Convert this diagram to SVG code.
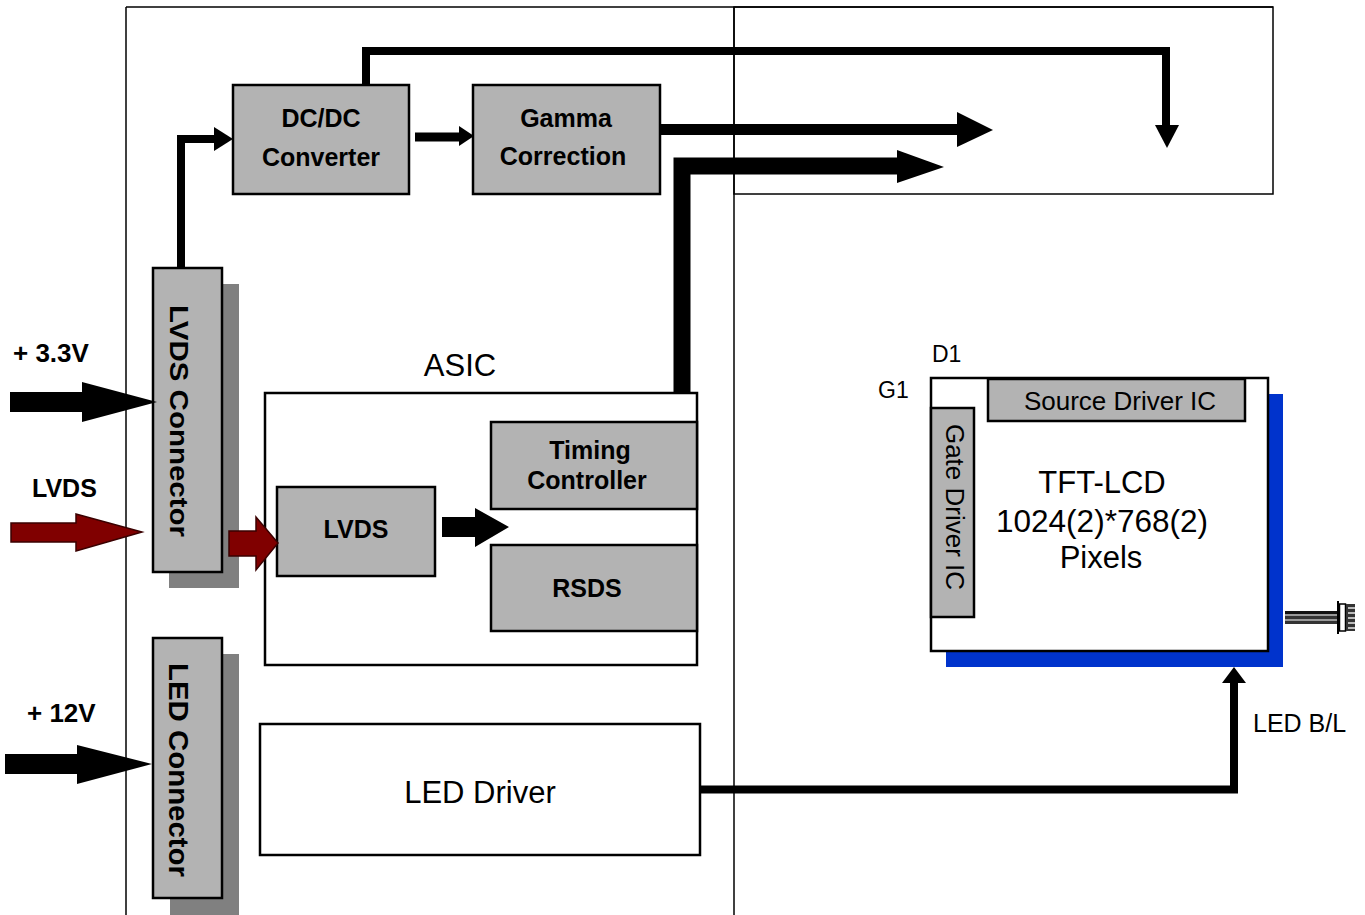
<svg xmlns="http://www.w3.org/2000/svg" width="1365" height="915" viewBox="0 0 1365 915">
<style>
.frame{fill:none;stroke:#000;stroke-width:1.5}
.gbox{fill:#b3b3b3;stroke:#000;stroke-width:2.5}
.wbox{fill:#fff;stroke:#000;stroke-width:2.5}
.shadow{fill:#808080}
.wire{fill:none;stroke:#000;stroke-linejoin:miter;stroke-linecap:butt}
.head{fill:#000}
.red{fill:#800000;stroke:#3a0000;stroke-width:1.5}
.b{font-family:"Liberation Sans",Arial,sans-serif;font-weight:bold;fill:#000}
.n{font-family:"Liberation Sans",Arial,sans-serif;fill:#000}
</style>
<rect width="1365" height="915" fill="#fff"/>
<g id="frame">
<line class="frame" x1="126" y1="7" x2="126" y2="915"/>
<line class="frame" x1="126" y1="7" x2="1273" y2="7"/>
<line class="frame" x1="734" y1="7" x2="734" y2="915"/>
<rect class="frame" x="734" y="7" width="539" height="187"/>
</g>
<g id="tft-panel">
<rect x="946" y="394" width="337" height="273" fill="#0033cc"/>
<rect class="wbox" x="931" y="378" width="337" height="273"/>
<text class="n" x="932" y="362" font-size="23">D1</text>
<text class="n" x="878" y="398" font-size="23">G1</text>
<text class="n" x="1102" y="493" font-size="31" text-anchor="middle">TFT-LCD</text>
<text class="n" x="1102" y="532" font-size="31" text-anchor="middle" textLength="212" lengthAdjust="spacingAndGlyphs">1024(2)*768(2)</text>
<text class="n" x="1101" y="568" font-size="31" text-anchor="middle">Pixels</text>
</g>
<g id="source-driver">
<rect class="gbox" x="988" y="379" width="257" height="42"/>
<text class="n" x="1120" y="410" font-size="26" text-anchor="middle">Source Driver IC</text>
</g>
<g id="gate-driver">
<rect class="gbox" x="931" y="408" width="43" height="209"/>
<text class="n" transform="translate(946,507) rotate(90)" font-size="26" text-anchor="middle">Gate Driver IC</text>
</g>
<g id="cable">
<rect x="1285" y="611" width="53" height="3" fill="#111"/>
<rect x="1285" y="614" width="53" height="2" fill="#999"/>
<rect x="1285" y="616" width="53" height="3" fill="#333"/>
<rect x="1285" y="619" width="53" height="2" fill="#999"/>
<rect x="1285" y="621" width="53" height="3" fill="#333"/>
<rect x="1337" y="601" width="2" height="33" fill="#000"/>
<rect x="1339.5" y="604" width="6" height="27" fill="#fff" stroke="#000" stroke-width="1.5"/>
<rect x="1346" y="604" width="9" height="27" fill="#333"/>
<rect x="1348" y="607" width="7" height="2" fill="#bbb"/>
<rect x="1348" y="612" width="7" height="2" fill="#bbb"/>
<rect x="1348" y="617" width="7" height="2" fill="#bbb"/>
<rect x="1348" y="622" width="7" height="2" fill="#bbb"/>
<rect x="1348" y="627" width="7" height="2" fill="#bbb"/>
</g>
<g id="dcdc">
<rect class="gbox" x="233" y="85" width="176" height="109"/>
<text class="b" x="321" y="127" font-size="25" text-anchor="middle">DC/DC</text>
<text class="b" x="321" y="166" font-size="25" text-anchor="middle">Converter</text>
</g>
<g id="gamma">
<rect class="gbox" x="473" y="85" width="187" height="109"/>
<text class="b" x="566" y="127" font-size="25" text-anchor="middle">Gamma</text>
<text class="b" x="563" y="165" font-size="25" text-anchor="middle">Correction</text>
</g>
<g id="lvds-connector">
<rect class="shadow" x="169" y="284" width="70" height="304"/>
<rect class="gbox" x="153" y="268" width="69" height="304"/>
<text class="b" transform="translate(170,421) rotate(90)" font-size="26" text-anchor="middle" textLength="232" lengthAdjust="spacingAndGlyphs">LVDS Connector</text>
</g>
<g id="led-connector">
<rect class="shadow" x="170" y="654" width="69" height="261"/>
<rect class="gbox" x="153" y="638" width="69" height="260"/>
<text class="b" transform="translate(169,770) rotate(90)" font-size="27" text-anchor="middle" textLength="214" lengthAdjust="spacingAndGlyphs">LED Connector</text>
</g>
<g id="asic">
<text class="n" x="460" y="376" font-size="31" text-anchor="middle">ASIC</text>
<rect class="wbox" x="265" y="393" width="432" height="272"/>
</g>
<g id="timing-controller">
<rect class="gbox" x="491" y="422" width="206" height="87"/>
<text class="b" x="590" y="459" font-size="25" text-anchor="middle">Timing</text>
<text class="b" x="587" y="489" font-size="25" text-anchor="middle">Controller</text>
</g>
<g id="rsds">
<rect class="gbox" x="491" y="545" width="206" height="86"/>
<text class="b" x="587" y="597" font-size="25" text-anchor="middle">RSDS</text>
</g>
<g id="lvds-rx">
<rect class="gbox" x="277" y="487" width="158" height="89"/>
<text class="b" x="356" y="538" font-size="25" text-anchor="middle">LVDS</text>
</g>
<g id="led-driver">
<rect class="wbox" x="260" y="724" width="440" height="131"/>
<text class="n" x="480" y="803" font-size="31" text-anchor="middle">LED Driver</text>
</g>
<g id="inputs">
<text class="b" x="13" y="362" font-size="26">+ 3.3V</text>
<text class="b" x="32" y="497" font-size="25">LVDS</text>
<text class="b" x="27" y="722" font-size="26">+ 12V</text>
<text class="n" x="1253" y="732" font-size="25">LED B/L</text>
</g>
<g id="connectors">
<polygon class="head" points="10,392 82,392 82,382 157,402 82,422 82,412 10,412"/>
<polygon class="red" points="11,523 76,523 76,514 142,532 76,551 76,542 11,542"/>
<polygon class="head" points="5,754 77,754 77,745 152,764 77,784 77,774 5,774"/>
<polygon class="red" points="229,531 256,531 256,517 278,543 256,570 256,556 229,556"/>
<polygon class="head" points="442,517 475,517 475,508 509,527 475,547 475,537 442,537"/>
<path class="wire" stroke-width="8" d="M181,268 V139 H215"/>
<polygon class="head" points="214,127 233,139 214,151"/>
<path class="wire" stroke-width="9" d="M415,137 H460"/>
<polygon class="head" points="459,126 474,136 459,146"/>
<path class="wire" stroke-width="8" d="M366,85 V51 H1166 V127"/>
<polygon class="head" points="1155,125 1179,125 1167,148"/>
<path class="wire" stroke-width="11" d="M660,129.5 H958"/>
<polygon class="head" points="957,112 993,130 957,147"/>
<path class="wire" stroke-width="17" d="M682,393 V166 H898"/>
<polygon class="head" points="897,150 944,167 897,183"/>
<path class="wire" stroke-width="8" d="M700,789.5 H1234 V682"/>
<polygon class="head" points="1222,683 1234,667 1246,683"/>
</g>
</svg>
